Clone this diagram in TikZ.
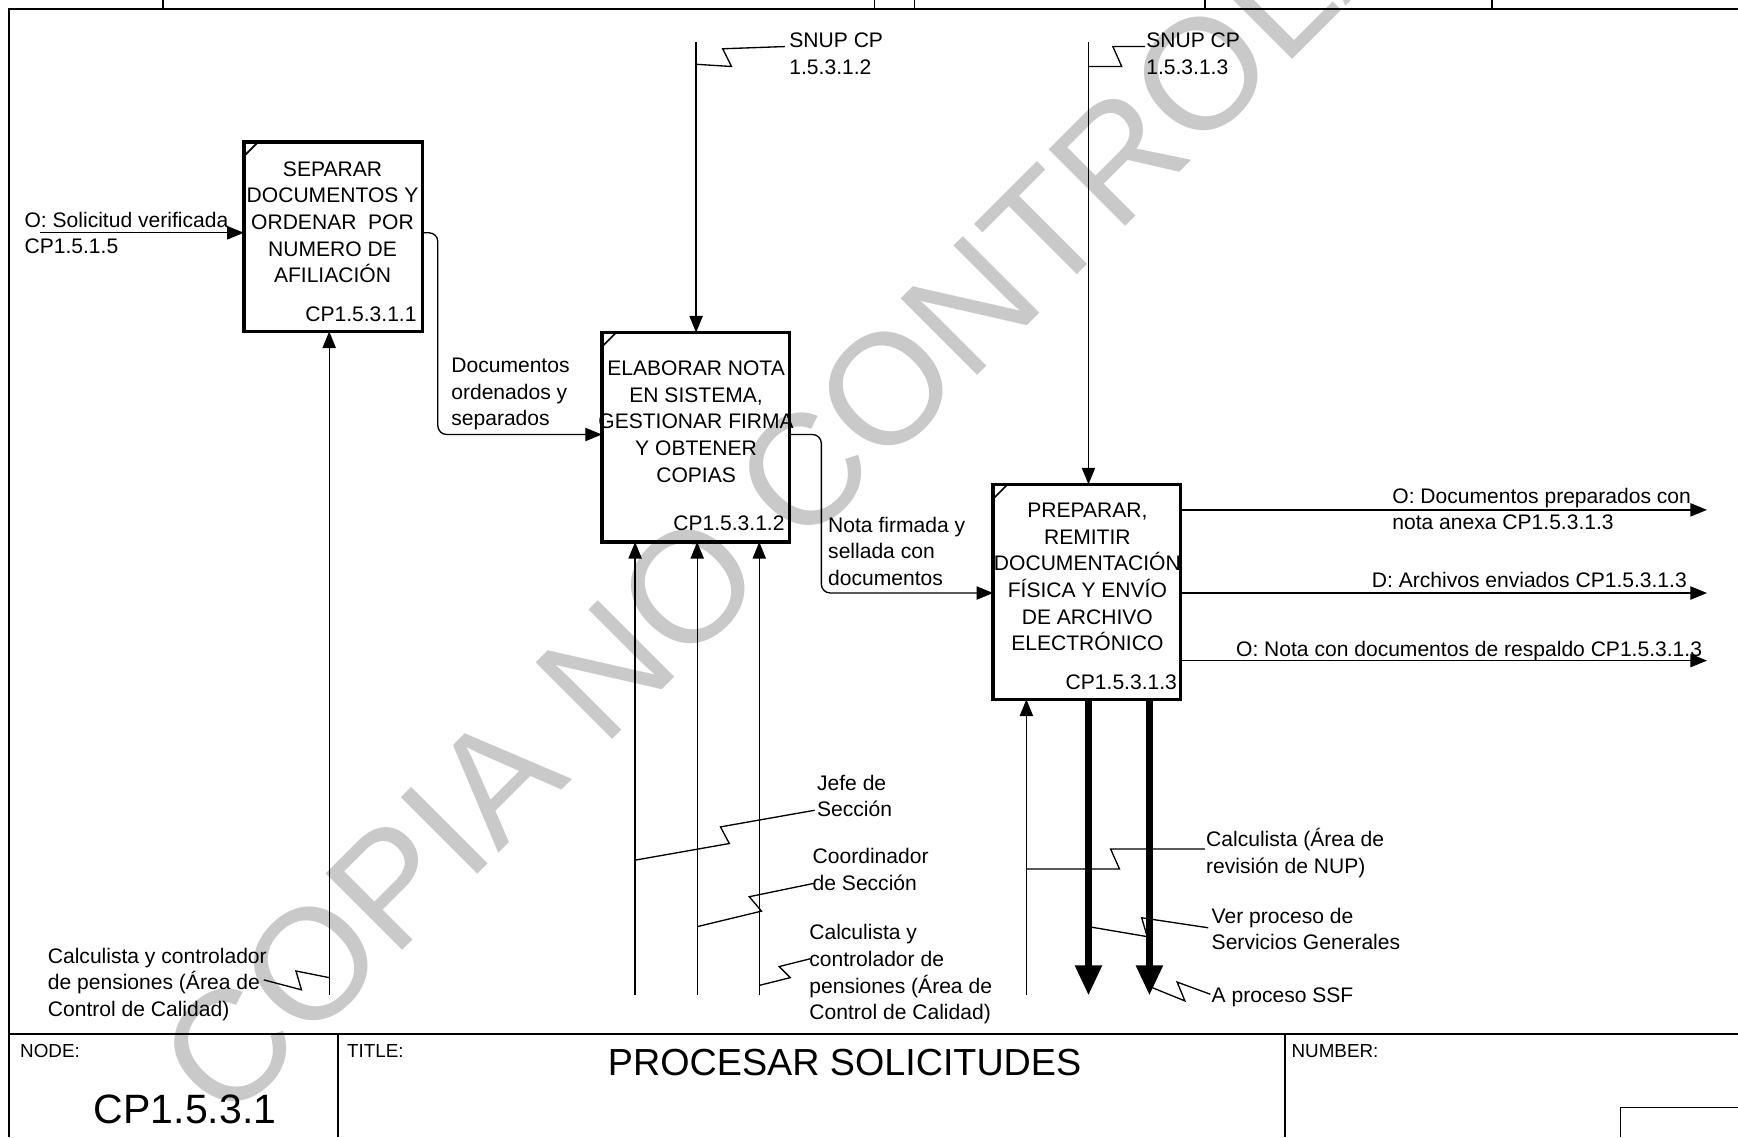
\documentclass[tikz,border=0pt]{standalone}
\usepackage{fontspec}
\setmainfont{Liberation Sans}
\usetikzlibrary{arrows.meta}
\newcommand{\txl}[1]{\begin{tabular}[t]{@{}l@{}}#1\end{tabular}}
\newcommand{\txc}[1]{\begin{tabular}[t]{@{}c@{}}#1\end{tabular}}
\begin{document}
\begin{tikzpicture}[x=1pt,y=-1pt, font=\fontsize{19}{24}\selectfont,
  ln/.style={line width=1.2pt},
  arr/.style={ln, -{Triangle[length=15pt,width=12pt]}},
  thickarr/.style={line width=6pt, -{Triangle[length=27pt,width=23pt]}},
  procbox/.style={draw, line width=3pt, inner sep=0pt, outer sep=0pt, anchor=north west},
  txt/.style={inner sep=0pt, anchor=base west},
  txtc/.style={inner sep=0pt, anchor=base},
  txte/.style={inner sep=0pt, anchor=base east},
  squig/.style={line width=1.2pt},
  frame/.style={line width=1.5pt}]
\useasboundingbox (0,0) rectangle (1568,1026);
\clip (0,0) rectangle (1568,1026);
\fill[white] (0,0) rectangle (1568,1026);
% watermark
\node[rotate=45, anchor=base west, inner sep=0pt, text=black!21,
      font=\fontsize{142}{142}\selectfont] (wm) at (204,1016) {COPIA NO CONTROLADA};
% frame
\draw[frame] (8,1026) -- (8,8) -- (1568,8);
\foreach \x in {147,789,825,1087,1346} \draw[ln] (\x,0) -- (\x,8);
\draw[frame] (8,933) -- (1568,933);
\draw[frame] (305,933) -- (305,1026);
\draw[frame] (1159,933) -- (1159,1026);
\draw[ln] (1462,1026) -- (1462,999) -- (1568,999);
% boxes
\node[procbox, minimum width=161pt, minimum height=171pt] (b1) at (220,128) {};
\node[procbox, minimum width=169pt, minimum height=189pt] (b2) at (543,300) {};
\node[procbox, minimum width=169pt, minimum height=194pt] (b3) at (896,437) {};
\foreach \b in {b1,b2,b3}
  \draw[frame] ([yshift=-13pt]\b.north west) -- ([xshift=13pt]\b.north west);
\node[txtc] (t1) at (300,159) {\txc{SEPARAR\\DOCUMENTOS Y\\ORDENAR\ \ POR\\NUMERO DE\\AFILIACIÓN}};
\node[txte] (n1) at (376,290) {CP1.5.3.1.1};
\node[txtc] (t2) at (628,339) {\txc{ELABORAR NOTA\\EN SISTEMA,\\GESTIONAR FIRMA\\Y OBTENER\\COPIAS}};
\node[txte] (n2) at (708,479) {CP1.5.3.1.2};
\node[txtc] (t3) at (981,467) {\txc{PREPARAR,\\REMITIR\\DOCUMENTACIÓN\\FÍSICA Y ENVÍO\\DE ARCHIVO\\ELECTRÓNICO}};
\node[txte] (n3) at (1062,622) {CP1.5.3.1.3};
% labels
\node[txt] (l1) at (22,205) {\txl{O: Solicitud verificada\\CP1.5.1.5}};
\node[txt] (l2) at (712,43) {\txl{SNUP CP\\1.5.3.1.2}};
\node[txt] (l3) at (1034,43) {\txl{SNUP CP\\1.5.3.1.3}};
\node[txt] (l4) at (407,336) {\txl{Documentos\\ordenados y\\separados}};
\node[txt] (l5) at (747,480) {\txl{Nota firmada y\\sellada con\\documentos}};
\node[txt] (l6) at (1256,454) {\txl{O: Documentos preparados con\\nota anexa CP1.5.3.1.3}};
\node[txte] (l7) at (1522,530) {D: Archivos enviados CP1.5.3.1.3};
\node[txt] (l8) at (1115,592) {O: Nota con documentos de respaldo CP1.5.3.1.3};
\node[txt] (l9) at (737,713) {\txl{Jefe de\\Sección}};
\node[txt] (l10) at (733,779) {\txl{Coordinador\\de Sección}};
\node[txt] (l11) at (730,848) {\txl{Calculista y\\controlador de\\pensiones (Área de\\Control de Calidad)}};
\node[txt] (l12) at (1088,764) {\txl{Calculista (Área de\\revisión de NUP)}};
\node[txt] (l13) at (1093,833) {\txl{Ver proceso de\\Servicios Generales}};
\node[txt] (l14) at (1093,904) {A proceso SSF};
\node[txt] (l15) at (43,869) {\txl{Calculista y controlador\\de pensiones (Área de\\Control de Calidad)}};
% title block
\node[txt, font=\fontsize{17}{20}\selectfont] (h1) at (18,954) {NODE:};
\node[txt, font=\fontsize{17}{20}\selectfont] (h2) at (313,954) {TITLE:};
\node[txt, font=\fontsize{17}{20}\selectfont] (h3) at (1165,954) {NUMBER:};
\node[txtc, font=\fontsize{34}{40}\selectfont] (ttl) at (762,970) {PROCESAR SOLICITUDES};
\node[txtc, font=\fontsize{37}{44}\selectfont] (nid) at (167,1014) {CP1.5.3.1};
% connectors
\coordinate (i1) at (36,210);
\draw[arr] (i1) -- (i1 -| b1.west);
\coordinate (k1) at (395,210); \coordinate (k2) at (395,392);
\draw[arr, rounded corners=8pt] (k1 -| b1.east) -- (k1) -- (k2) -- (k2 -| b2.west);
\coordinate (k3) at (741,392); \coordinate (k4) at (741,535);
\draw[arr, rounded corners=8pt] (k3 -| b2.east) -- (k3) -- (k4) -- (k4 -| b3.west);
\coordinate (c1) at (628,38); \draw[arr] (c1) -- (c1 |- b2.north);
\coordinate (c2) at (982,38); \draw[arr] (c2) -- (c2 |- b3.north);
\coordinate (m1) at (297,898); \draw[arr] (m1) -- (m1 |- b1.south);
\coordinate (m2) at (573,898); \draw[arr] (m2) -- (m2 |- b2.south);
\coordinate (m3) at (629,898); \draw[arr] (m3) -- (m3 |- b2.south);
\coordinate (m4) at (685,898); \draw[arr] (m4) -- (m4 |- b2.south);
\coordinate (m5) at (926,898); \draw[arr] (m5) -- (m5 |- b3.south);
\coordinate (o1) at (1540,460); \draw[arr] (o1 -| b3.east) -- (o1);
\coordinate (o2) at (1540,535); \draw[arr] (o2 -| b3.east) -- (o2);
\coordinate (o3) at (1540,596); \draw[arr] (o3 -| b3.east) -- (o3);
\coordinate (o4) at (982,898); \draw[thickarr] (o4 |- b3.south) -- (o4);
\coordinate (o5) at (1037,898); \draw[thickarr] (o5 |- b3.south) -- (o5);
% squiggles
\draw[squig] (628,58) -- (660,60) -- (652,44) -- (708,42);
\draw[squig] (982,60) -- (1012,60) -- (1004,42) -- (1033,42);
\draw[squig] (297,882) -- (267,876) -- (272,893) -- (238,884);
\draw[squig] (573,776) -- (658,761) -- (650,746) -- (735,731);
\draw[squig] (629,836) -- (687,822) -- (676,809) -- (734,797);
\draw[squig] (685,889) -- (713,882) -- (703,872) -- (731,865);
\draw[squig] (926,784) -- (1010,784) -- (1002,766) -- (1087,766);
\draw[squig] (982,836) -- (1035,845) -- (1030,828) -- (1090,837);
\draw[squig] (1037,890) -- (1069,903) -- (1062,886) -- (1092,897);
\end{tikzpicture}
\end{document}
